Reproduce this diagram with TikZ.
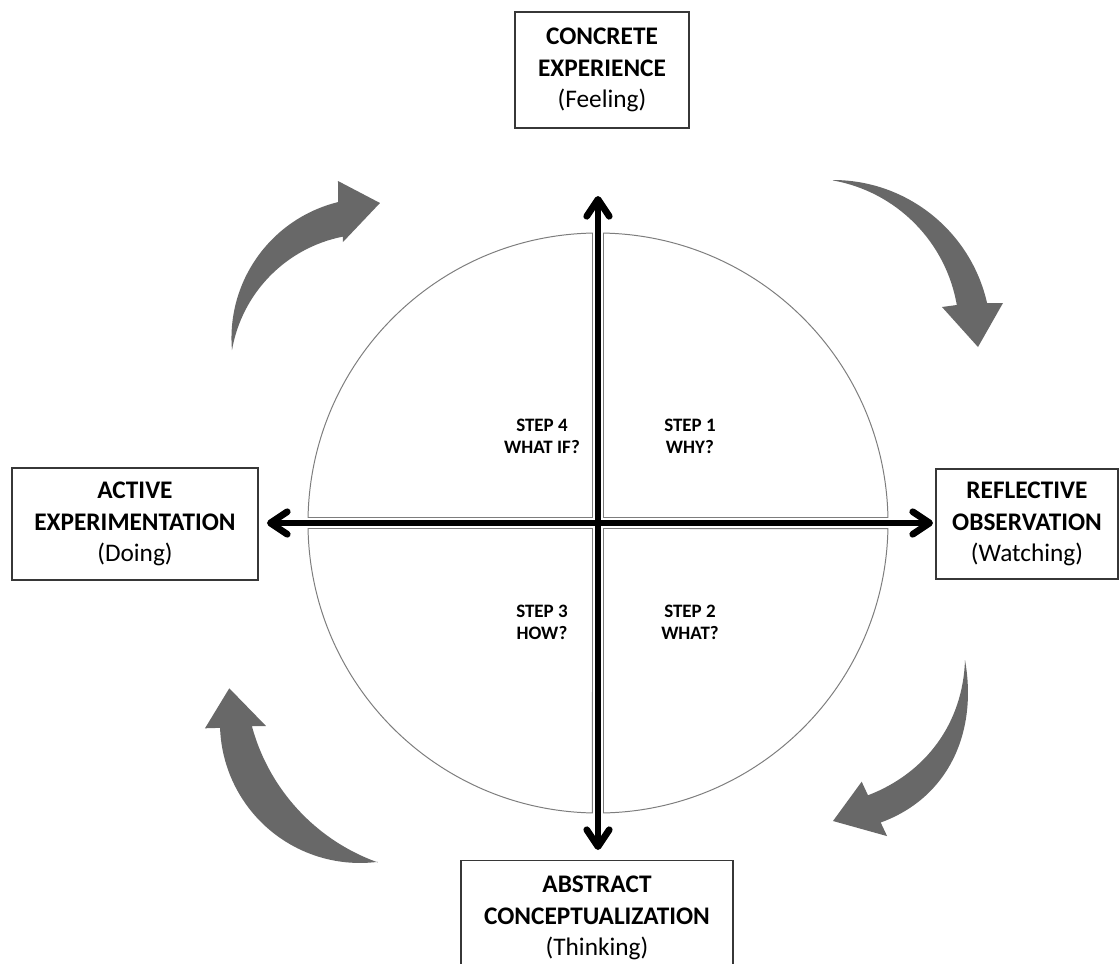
\documentclass[tikz,border=0pt]{standalone}
\usepackage{fontspec}
\setmainfont{Carlito}
\usepackage{tikz}
\usetikzlibrary{arrows.meta}
\definecolor{framegrey}{RGB}{55,55,55}
\definecolor{rimgrey}{RGB}{125,125,125}
\definecolor{swirlgrey}{RGB}{104,104,104}

\begin{document}
\begin{tikzpicture}[
        x=0.025cm, y=0.025cm,
        stage/.style={rectangle, draw=framegrey, line width=1.3pt,
                      align=center, inner sep=0pt,
                      font=\fontsize{18}{22.5}\selectfont},
        steptxt/.style={align=center, font=\fontsize{13.5}{15.6}\selectfont\bfseries},
        quarter/.style={draw=rimgrey, line width=0.7pt},
        axisline/.style={line width=4.8pt, line cap=round,
                         {Straight Barb[length=12pt, width=16pt, round]}-{Straight Barb[length=12pt, width=16pt, round]}},
        swirl/.style={fill=swirlgrey}
    ]
        \fill[white] (-598,-440) rectangle (522,523);
        \useasboundingbox (-598,-440) rectangle (522,523);

        % four quarters of the cycle
        \foreach \a in {0,90,180,270}
            \draw[quarter, rotate=\a] (5.5,5.5) -- (289.95,5.5)
                arc[start angle=1.087, end angle=88.913, radius=290] -- cycle;

        \node[steptxt] (s1) at (92,87)   {STEP 1\\WHY?};
        \node[steptxt] (s2) at (92,-99)  {STEP 2\\WHAT?};
        \node[steptxt] (s3) at (-56,-99) {STEP 3\\HOW?};
        \node[steptxt] (s4) at (-56,87)  {STEP 4\\WHAT IF?};

        \node[stage, minimum width=4.35cm, minimum height=2.9cm] (conc) at (4,453)
              {\textbf{CONCRETE}\\\textbf{EXPERIENCE}\\(Feeling)};
        \node[stage, minimum width=4.55cm, minimum height=2.75cm] (refl) at (429,-1)
              {\textbf{REFLECTIVE}\\\textbf{OBSERVATION}\\(Watching)};
        \node[stage, minimum width=6.8cm, minimum height=2.875cm] (abst) at (-1,-395)
              {\textbf{ABSTRACT}\\\textbf{CONCEPTUALIZATION}\\(Thinking)};
        \node[stage, minimum width=6.15cm, minimum height=2.8cm] (actv) at (-463,-1)
              {\textbf{ACTIVE}\\\textbf{EXPERIMENTATION}\\(Doing)};

        % axes
        \coordinate (ntip) at (0,327);
        \coordinate (stip) at (0,-327);
        \coordinate (wtip) at (-331,0);
        \coordinate (etip) at (335,0);
        \draw[axisline] (stip) -- (ntip);
        \draw[axisline] (wtip) -- (etip);

        % curved grey arrows
        \fill[swirl] (235,343) arc[start angle=90, end angle=12.8, radius=158]
            -- (405,220) -- (380,176) -- (344,216) -- (358.8,218)
            arc[start angle=9.8, end angle=79.9, radius=153] -- cycle;
        \fill[swirl] (-366,173) arc[start angle=184.9, end angle=103.8, radius=140]
            -- (-260,342) -- (-218,320) -- (-255,281) -- (-255,286.4)
            arc[start angle=101.1, end angle=170.1, radius=140] -- cycle;
        \fill[swirl] (367,-137) .. controls (380,-210) and (350,-275) .. (282.7,-299.5)
            -- (289.1,-313.1) -- (235,-298) -- (263.7,-258.7) -- (270,-272.3)
            .. controls (328,-250) and (365,-200) .. (367,-137) -- cycle;
        \fill[swirl] (-220,-338.8) arc[start angle=277.4, end angle=182, radius=140]
            -- (-393,-205.3) -- (-368.7,-165.3) -- (-332,-203) -- (-346.1,-203.1)
            arc[start angle=195.1, end angle=250.4, radius=200] -- cycle;
\end{tikzpicture}
\end{document}
